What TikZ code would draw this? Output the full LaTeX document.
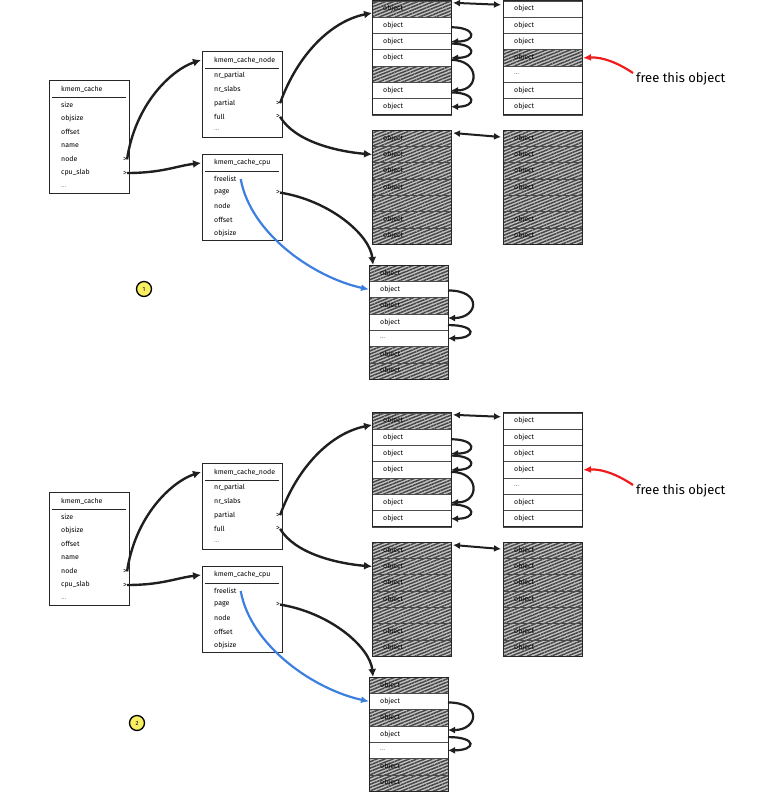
\documentclass[tikz,border=0pt]{standalone}
\usepackage{fontspec}
\setmainfont{Fira Sans}
\usetikzlibrary{arrows.meta,patterns.meta}
\definecolor{bluearr}{HTML}{3C7FE0}
\definecolor{redarr}{HTML}{EE1C1C}
\definecolor{ylw}{HTML}{F7EE62}

\newcommand{\structbx}[5]{% name, x, ytop, header, rows
  \foreach \l/\a [count=\i] in {#5} {
    \node[fld] (#1f\i) at ({#2+12},{#3+11.4+\i*13.6}) {\l};
    \node[gtm] (#1g\i) at ({#2+76},{#3+11.4+\i*13.6}) {\a};
    \xdef\nrows{\i}
  }
  \node[hdr] (#1h) at ({#2+12},{#3+9}) {#4};
  \draw[boxline] (#2,#3) rectangle ({#2+80},{#3+25+(\nrows-1)*13.6+7});
  \draw[hdrline] ({#2+3},{#3+17}) -- ({#2+77},{#3+17});
}

\newcommand{\slabcol}[4]{% name, xleft, ytop, rows
  \foreach \t/\l [count=\i] in {#4} {
    \node[slabrow,\t] (#1r\i) at ({#2+39.5},{#3+(\i-0.5)*16.3}) {};
    \node[objlbl] (#1t\i) at ([xshift=11pt]#1r\i.west) {\l};
  }
  \draw[boxline] (#1r1.north west) rectangle (#1r7.south east);
}

\newcommand{\panel}[4]{% prefix, B4 style, circle number, circle position
  \structbx{#1kc}{49}{80}{kmem\_cache}{size/{},objsize/{},offset/{},name/{},node/>,cpu\_slab/>,{\textcolor{black!45}{\dots}}/{}}
  \structbx{#1kn}{202}{51}{kmem\_cache\_node}{nr\_partial/{},nr\_slabs/{},partial/>,full/>,{\textcolor{black!45}{\dots}}/{}}
  \structbx{#1cp}{202}{154}{kmem\_cache\_cpu}{freelist/{},page/>,node/{},offset/{},objsize/{}}
  \slabcol{#1A}{372}{0.8}{hatchrow/object,plainrow/object,plainrow/object,plainrow/object,hatchrow/{},plainrow/object,plainrow/object}
  \slabcol{#1B}{503}{0.8}{plainrow/object,plainrow/object,plainrow/object,#2/object,plainrow/{\textcolor{black!45}{\dots}},plainrow/object,plainrow/object}
  \slabcol{#1C}{372}{130}{hatchrow/object,hatchrow/object,hatchrow/object,hatchrow/object,hatchrow/{},hatchrow/object,hatchrow/object}
  \slabcol{#1D}{503}{130}{hatchrow/object,hatchrow/object,hatchrow/object,hatchrow/object,hatchrow/{},hatchrow/object,hatchrow/object}
  \slabcol{#1E}{369}{265}{hatchrow/object,plainrow/object,hatchrow/object,plainrow/object,plainrow/{\textcolor{black!45}{\dots}},hatchrow/object,hatchrow/object}
  % free list loops
  \draw[larr] ([yshift=-2pt]#1Ar2.east) .. controls +(26,0) and +(26,0) .. (#1Ar3.east);
  \draw[larr] ([yshift=-2pt]#1Ar3.east) .. controls +(26,0) and +(26,0) .. (#1Ar4.east);
  \draw[larr] ([yshift=-2pt]#1Ar4.east) .. controls +(29,0) and +(29,0) .. (#1Ar6.east);
  \draw[larr] ([yshift=-2pt]#1Ar6.east) .. controls +(26,0) and +(26,0) .. (#1Ar7.east);
  \draw[larr] ([yshift=-1pt]#1Er2.east) .. controls +(35,0) and +(30,0) .. ([yshift=4pt]#1Er4.east);
  \draw[larr] ([yshift=-3pt]#1Er4.east) .. controls +(30,0) and +(28,0) .. (#1Er5.east);
  % double arrows between slabs
  \draw[darr] ([xshift=2pt,yshift=-2pt]#1Ar1.north east) -- ([xshift=-2pt,yshift=-4pt]#1Br1.north west);
  \draw[darr] ([xshift=2pt,yshift=-3pt]#1Cr1.north east) -- ([xshift=-2pt,yshift=-7pt]#1Dr1.north west);
  % struct pointers
  \draw[arr] (#1kcg5.east) .. controls +(8,-55) and +(-30,10) .. ([xshift=-13pt]#1knh.west);
  \draw[arr] (#1kcg6.east) .. controls +(35,0) and +(-25,3) .. ([xshift=-13pt]#1cph.west);
  \draw[arr] (#1kng3.east) .. controls +(18,-50) and +(-40,8) .. ([yshift=-4pt]#1Ar1.west);
  \draw[arr] (#1kng4.east) .. controls +(15,25) and +(-35,-3) .. (#1Cr2.west);
  \draw[arr] (#1cpg2.east) .. controls +(50,8) and +(-3,-30) .. ([xshift=4pt]#1Er1.north west);
  \draw[barr] ([xshift=4pt]#1cpf1.east) .. controls +(10,55) and +(-55,-12) .. (#1Er2.west);
  % note
  \node[notetxt] (#1note) at (636,79) {free this object};
  \draw[rarr] ([xshift=-3pt,yshift=6pt]#1note.west) .. controls +(-15,-10) and +(20,-1) .. ([xshift=1pt]#1Br4.east);
  % step marker
  \node[ycirc] (#1circ) at #4 {#3};
}

\begin{document}
\begin{tikzpicture}[x=1pt,y=-1pt,
  boxline/.style={draw=black!85, line width=0.9pt},
  hdrline/.style={draw=black!85, line width=0.8pt},
  hdr/.style={anchor=west, inner sep=0pt, font=\fontsize{7}{8}\selectfont},
  fld/.style={anchor=west, inner sep=0pt, font=\fontsize{7}{8}\selectfont},
  gtm/.style={inner sep=0pt, font=\fontsize{7.5}{8}\selectfont},
  objlbl/.style={anchor=west, inner sep=0pt, font=\fontsize{7}{8}\selectfont},
  slabrow/.style={draw=black!70, line width=0.6pt, minimum width=79pt, minimum height=16.3pt, inner sep=0pt, outer sep=0pt},
  plainrow/.style={},
  hatchrow/.style={preaction={fill=black!22}, pattern={Lines[angle=22,distance=3pt,line width=1.5pt]}, pattern color=black!72},
  arr/.style={draw=black!88, line width=2.4pt, -{Latex[length=8pt,width=8pt]}},
  larr/.style={draw=black!88, line width=2.2pt, -{Latex[length=7pt,width=7pt]}},
  darr/.style={draw=black!88, line width=2pt, {Latex[length=7pt,width=7pt]}-{Latex[length=7pt,width=7pt]}},
  barr/.style={draw=bluearr, line width=2.2pt, -{Latex[length=8pt,width=7pt]}},
  rarr/.style={draw=redarr, line width=2.2pt, -{Latex[length=8pt,width=7pt]}},
  ycirc/.style={circle, fill=ylw, draw=black, line width=1.3pt, minimum size=15pt, inner sep=0pt, font=\fontsize{6}{7}\selectfont},
  notetxt/.style={anchor=west, inner sep=0pt, font=\fontsize{13}{15}\selectfont}
]
\useasboundingbox (0,0) rectangle (775,798);
\panel{a}{hatchrow}{1}{(144,289)}
\begin{scope}[shift={(0,412)}]
\panel{b}{plainrow}{2}{(137,311)}
\end{scope}
\end{tikzpicture}
\end{document}
